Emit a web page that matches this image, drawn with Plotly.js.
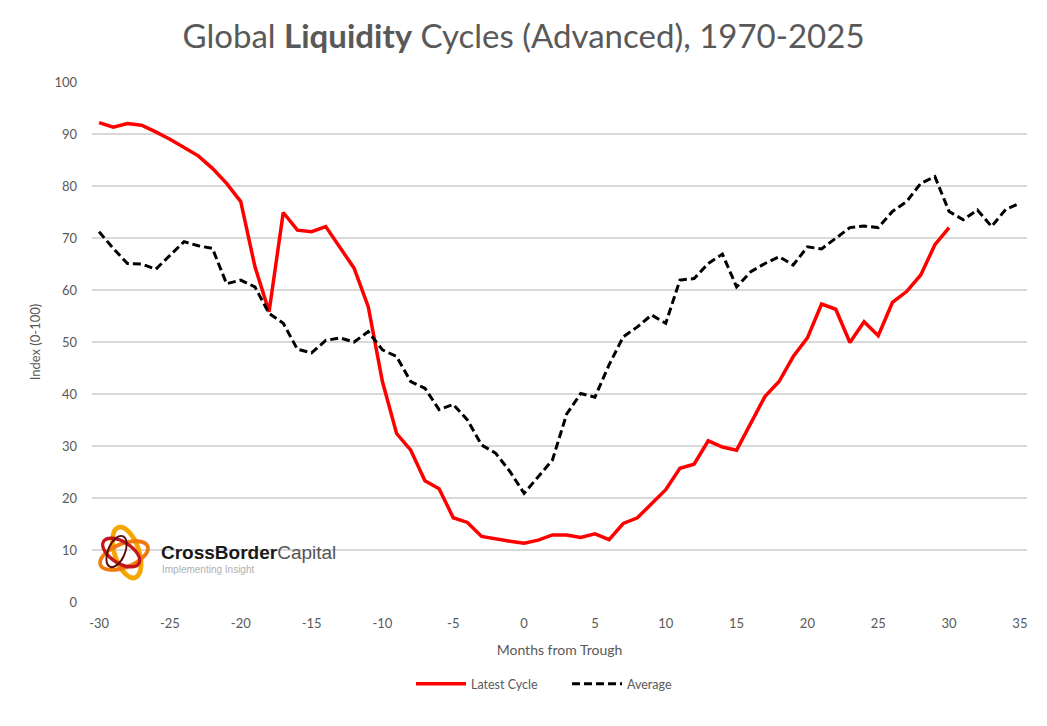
<!DOCTYPE html>
<html>
<head>
<meta charset="utf-8">
<script src="https://cdn.plot.ly/plotly-3.0.1.min.js"></script>
<style>html,body{margin:0;padding:0;background:#fff;}#chart{width:1047px;height:726px;}</style>
</head>
<body>
<div id="chart"></div>
<script>
// Months from trough
const latestMonths = [-30,-29,-28,-27,-26,-25,-24,-23,-22,-21,-20,-19,-18,-17,-16,-15,-14,-13,-12,-11,-10,-9,-8,-7,-6,-5,-4,-3,-2,-1,0,1,2,3,4,5,6,7,8,9,10,11,12,13,14,15,16,17,18,19,20,21,22,23,24,25,26,27,28,29,30];
const latestCycle = [92.2,91.3,92.0,91.7,90.4,89.0,87.4,85.8,83.4,80.5,77.0,64.5,55.8,74.9,71.5,71.2,72.2,68.3,64.2,56.8,42.4,32.4,29.2,23.3,21.8,16.2,15.3,12.6,12.1,11.7,11.3,11.9,12.9,12.9,12.4,13.1,12.0,15.1,16.2,19.0,21.6,25.7,26.5,31.0,29.8,29.2,34.4,39.5,42.4,47.2,50.8,57.3,56.3,49.9,53.9,51.2,57.6,59.7,62.9,68.7,72.0];
const averageMonths = [-30,-29,-28,-27,-26,-25,-24,-23,-22,-21,-20,-19,-18,-17,-16,-15,-14,-13,-12,-11,-10,-9,-8,-7,-6,-5,-4,-3,-2,-1,0,1,2,3,4,5,6,7,8,9,10,11,12,13,14,15,16,17,18,19,20,21,22,23,24,25,26,27,28,29,30,31,32,33,34,35];
const averageCycle = [71.2,68.0,65.1,65.0,64.0,66.6,69.3,68.5,68.0,61.2,61.9,60.6,55.5,53.6,48.6,47.9,50.3,50.8,50.0,52.0,48.5,47.2,42.4,41.1,37.0,38.0,35.0,30.2,28.6,25.1,20.9,24.1,27.3,36.1,40.1,39.4,45.6,51.0,52.9,55.2,53.6,61.9,62.2,65.1,66.9,60.6,63.5,65.1,66.4,64.8,68.3,67.9,69.9,72.0,72.3,72.0,75.1,77.0,80.5,81.8,75.1,73.5,75.4,72.2,75.5,76.7];
const xTicks = [-30,-25,-20,-15,-10,-5,0,5,10,15,20,25,30,35];
const yTicks = [0,10,20,30,40,50,60,70,80,90,100];

const FONT = 'Lato, "Open Sans", sans-serif';
const GRAY = '#595959';

const traces = [
  {x: latestMonths, y: latestCycle, type: 'scatter', mode: 'lines', name: 'Latest Cycle',
   line: {color: '#ff0000', width: 3.5}},
  {x: averageMonths, y: averageCycle, type: 'scatter', mode: 'lines', name: 'Average',
   line: {color: '#000000', width: 3, dash: '8px,4px'}}
];

const logoSvg = "<svg xmlns='http://www.w3.org/2000/svg' width='60' height='64' viewBox='0 0 60 64'>" +
  "<g fill='none'>" +
  "<ellipse cx='33' cy='31' rx='27' ry='13' transform='rotate(70 33 31)' stroke='#f7a600' stroke-width='5'/>" +
  "<ellipse cx='30' cy='34' rx='27' ry='12' transform='rotate(-20 30 34)' stroke='#ee7a10' stroke-width='4'/>" +
  "<ellipse cx='27' cy='31' rx='22' ry='11' transform='rotate(30 27 31)' stroke='#c5161d' stroke-width='3.5'/>" +
  "<ellipse cx='22' cy='30' rx='17' ry='9' transform='rotate(115 22 30)' stroke='#5a0a0a' stroke-width='2'/>" +
  "</g></svg>";

const L = 92, R = 1027, T = 82, B = 602;
const px = v => (v - L) / (R - L);
const py = v => (B - v) / (B - T);

const layout = {
  width: 1047, height: 726,
  margin: {l: L, r: 1047 - R, t: T, b: 726 - B},
  paper_bgcolor: '#ffffff', plot_bgcolor: '#ffffff',
  font: {family: FONT, color: GRAY, size: 13},
  title: {text: 'Global <b>Liquidity</b> Cycles (Advanced), 1970-2025',
          font: {family: FONT, size: 33, color: GRAY}, x: 0.5, xanchor: 'center', y: 0.95, yanchor: 'middle'},
  xaxis: {range: [-30.5, 35.5], tickvals: xTicks, ticktext: xTicks.map(String), showgrid: false, zeroline: false,
          showline: false, ticks: '', ticklabelstandoff: 12, tickfont: {family: FONT, size: 13, color: GRAY},
          title: {text: 'Months from Trough', font: {family: FONT, size: 14, color: GRAY}, standoff: 15}},
  yaxis: {range: [0, 100], tickvals: yTicks, showgrid: true, gridcolor: '#d9d9d9', gridwidth: 1.5, zeroline: false,
          showline: false, ticks: '', ticklabelstandoff: 14, tickfont: {family: FONT, size: 13, color: GRAY},
          title: {text: 'Index (0-100)', font: {family: FONT, size: 13, color: GRAY}, standoff: 10}},
  showlegend: true,
  legend: {orientation: 'h', x: px(411), xanchor: 'left', y: py(684), yanchor: 'middle',
           font: {family: FONT, size: 12.5, color: GRAY}, itemwidth: 50, entrywidth: 91, entrywidthmode: 'pixels',
           traceorder: 'normal'},
  images: [{source: 'data:image/svg+xml;charset=utf-8,' + encodeURIComponent(logoSvg),
            xref: 'paper', yref: 'paper', x: px(96), y: py(522), sizex: 56 / (R - L), sizey: 63 / (B - T),
            xanchor: 'left', yanchor: 'top', sizing: 'stretch', layer: 'above'}],
  annotations: [
    {xref: 'paper', yref: 'paper', x: px(159), y: py(552), xanchor: 'left', yanchor: 'middle', showarrow: false,
     text: "<b>CrossBorder</b><span style='color:#555555'>Capital</span>",
     font: {family: '"Liberation Sans", Arial, sans-serif', size: 19, color: '#1a1a1a'}},
    {xref: 'paper', yref: 'paper', x: px(160), y: py(569), xanchor: 'left', yanchor: 'middle', showarrow: false,
     text: 'Implementing Insight',
     font: {family: '"Liberation Sans", Arial, sans-serif', size: 10, color: '#b0b0b0'}}
  ]
};

Plotly.newPlot('chart', traces, layout, {displayModeBar: false, responsive: false});
</script>
</body>
</html>
